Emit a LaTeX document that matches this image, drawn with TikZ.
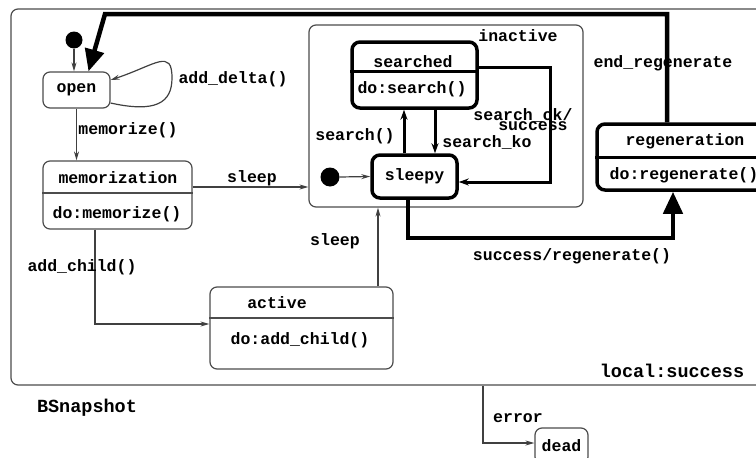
\documentclass[tikz,border=0pt]{standalone}
\usepackage{fontspec}
\setmonofont{Liberation Mono}
\usetikzlibrary{arrows.meta}

\newcommand{\lblfont}{\fontsize{16.5}{19}\selectfont\ttfamily\bfseries}
\newcommand{\bigfont}{\fontsize{18.5}{21}\selectfont\ttfamily\bfseries}

\tikzset{
  state/.style={draw=black!70, line width=1.2pt, rounded corners=7pt, inner sep=0pt, font=\lblfont},
  boldstate/.style={draw, line width=3.5pt, rounded corners=8pt, inner sep=0pt, font=\lblfont},
  lbl/.style={font=\lblfont, inner sep=0pt},
  divider/.style={draw=black!70, line width=1.2pt},
  tr/.style={draw=black!75, line width=1.2pt, -{Stealth[length=9pt,width=5pt]}},
  btr/.style={line width=3pt, -{Stealth[length=10pt,width=7pt]}},
  bigtr/.style={line width=4.5pt, -{Triangle[length=22pt,width=19pt]}},
  dot/.style={circle, fill, inner sep=0pt, minimum size=#1}
}

\begin{document}
\begin{tikzpicture}[x=1pt,y=-1pt]
\useasboundingbox (0,0) rectangle (756,458);
\clip (0,0) rectangle (756,458);

\node[state, minimum width=769pt, minimum height=376pt] (bsnap) at (395.5,197) {};
\node[font=\bigfont, inner sep=0pt] (bsnaplbl) at (87,408) {BSnapshot};
\node[font=\bigfont, inner sep=0pt] (locallbl) at (672,371) {local:success};

\node[dot=17pt] (start) at (74,40) {};
\node[state, minimum width=67pt, minimum height=36pt] (open) at (76.5,90) {open};

\node[state, minimum width=149pt, minimum height=68pt] (memo) at (117.5,195) {};
\node[lbl] (memotitle) at (118,178) {memorization};
\node[lbl] (memodo) at (117,214) {do:memorize()};
\draw[divider] (memo.west |- 0,193) -- (memo.east |- 0,193);

\node[state, minimum width=274pt, minimum height=182pt] (inactive) at (446,116) {};
\node[lbl] (inactivelbl) at (518,36) {inactive};

\node[boldstate, minimum width=125pt, minimum height=66pt] (searched) at (414.5,75) {};
\node[lbl] (searchedtitle) at (413,62) {searched};
\node[lbl] (searcheddo) at (412,89) {do:search()};
\draw[line width=3pt] (searched.west |- 0,71) -- (searched.east |- 0,71);

\node[dot=19pt] (substart) at (330,177) {};
\node[boldstate, minimum width=85pt, minimum height=43pt] (sleepy) at (414.5,176.5) {sleepy};

\node[boldstate, minimum width=180pt, minimum height=66pt] (regen) at (687,157) {};
\node[lbl] (regentitle) at (685,141) {regeneration};
\node[lbl] (regendo) at (684,175) {do:regenerate()};
\draw[line width=3pt] (regen.west |- 0,157) -- (regen.east |- 0,157);

\node[state, minimum width=183pt, minimum height=82pt] (active) at (301.5,328) {};
\node[lbl] (activetitle) at (277,303) {active};
\node[lbl] (activedo) at (300,340) {do:add\_child()};
\draw[divider] (active.west |- 0,318) -- (active.east |- 0,318);

\node[state, minimum width=53pt, minimum height=36pt] (dead) at (561.5,446) {dead};

\draw[tr] (start.south) -- (start.south |- open.north);
\draw[tr] ([yshift=-13pt]open.east) .. controls +(45,10) and +(0,25) .. (172,78)
  .. controls +(0,-30) and +(45,-15) .. ([yshift=10pt]open.east);
\node[lbl] (adddelta) at (233,79) {add\_delta()};

\draw[tr] (open.south) -- (open.south |- memo.north);
\node[lbl] (memorize) at (128,130) {memorize()};

\coordinate (s1) at ([yshift=8pt]memo.east);
\draw[tr] (s1) -- (s1 -| inactive.west);
\node[lbl] (sleepa) at (252,178) {sleep};

\draw[tr] ([xshift=-22.5pt]memo.south) |- ([yshift=4pt]active.west);
\node[lbl] (addchild) at (82,267) {add\_child()};

\coordinate (s2) at ([xshift=76.5pt]active.north);
\draw[tr] (s2) -- (s2 |- inactive.south);
\node[lbl] (sleepb) at (335,241) {sleep};

\draw[tr] (substart.east) -- (sleepy.west);

\draw[btr] ([xshift=-10.5pt]sleepy.north) -- ([xshift=-10.5pt]searched.south);
\node[lbl] (search) at (355,136) {search()};
\draw[btr] ([xshift=20.5pt]searched.south) -- ([xshift=20.5pt]sleepy.north);
\node[lbl] (searchko) at (487,142) {search\_ko};

\coordinate (okcorner) at (550,182);
\draw[btr] ([yshift=8pt]searched.east) -| (okcorner) -- ([yshift=-5.5pt]sleepy.east);
\node[lbl] (searchok) at (523,115) {search\_ok/};
\node[lbl] (success) at (533,126) {success};

\coordinate (regcorner) at (673,238);
\draw[bigtr] ([xshift=-6.5pt]sleepy.south) |- (regcorner) -- ([xshift=-14pt]regen.south);
\node[lbl] (successregen) at (572,256) {success/regenerate()};

\coordinate (endcorner) at (105,14);
\draw[bigtr] ([xshift=-20pt]regen.north) |- (endcorner) -- ([xshift=12pt]open.north);
\node[lbl] (endregen) at (663,63) {end\_regenerate};

\coordinate (err) at ([xshift=87.5pt]bsnap.south);
\draw[tr] (err) |- ([yshift=3pt]dead.west);
\node[lbl] (error) at (518,418) {error};
\end{tikzpicture}
\end{document}
